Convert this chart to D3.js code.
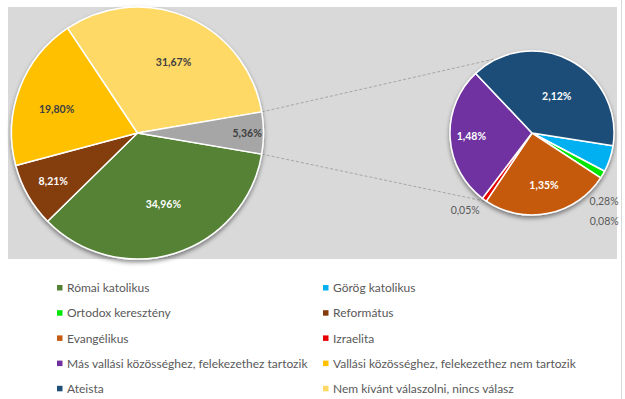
<!DOCTYPE html>
<html>
<head>
<meta charset="utf-8">
<script src="https://cdn.jsdelivr.net/npm/d3@7"></script>
<style>
  body { margin: 0; background: #fff; }
  svg { display: block; font-family: Lato, "Open Sans", sans-serif; }
</style>
</head>
<body>
<svg id="chart" width="625" height="399"></svg>
<script>
// data (legend order)
const categories = [
  "Római katolikus", "Görög katolikus",
  "Ortodox keresztény", "Református",
  "Evangélikus", "Izraelita",
  "Más vallási közösséghez, felekezethez tartozik", "Vallási közösséghez, felekezethez nem tartozik",
  "Ateista", "Nem kívánt válaszolni, nincs válasz"
];
const values = [34.96, 0.28, 0.08, 8.21, 1.35, 0.05, 1.48, 19.80, 2.12, 31.67];
const colors = ["#548235", "#00b0f0", "#00e600", "#843c0c", "#c55a11", "#e60000",
  "#7030a0", "#ffc000", "#1f4e79", "#ffd966"];
const inSecondary = [false, true, true, false, true, true, true, false, true, false];
const otherColor = "#a6a6a6";

// label placement: [angle in degrees (null = slice middle), radius factor, colour]
const labelLayout = {
  "Római katolikus": [160, 0.6, "#fff"],
  "Református": [null, 0.77, "#fff"],
  "Vallási közösséghez, felekezethez nem tartozik": [286.6, 0.67, "#404040"],
  "Nem kívánt válaszolni, nincs válasz": [27, 0.63, "#404040"],
  "__other": [null, 0.87, "#404040"],
  "Ateista": [34, 0.54, "#fff"],
  "Más vallási közösséghez, felekezethez tartozik": [267, 0.74, "#fff"],
  "Evangélikus": [167, 0.65, "#fff"],
  "Izraelita": [220.7, 1.25, "#595959"],
  "Görög katolikus": [133.4, 1.21, "#595959"],
  "Ortodox keresztény": [140.7, 1.39, "#595959"]
};
const outsideLabels = ["Izraelita", "Görög katolikus", "Ortodox keresztény"];

const svg = d3.select("#chart");
const rad = d => d * Math.PI / 180;
const fmt = v => d3.format(".2f")(v).replace(".", ",") + "%";

// shadow
const defs = svg.append("defs");
defs.append("filter").attr("id", "shadow")
  .attr("x", "-20%").attr("y", "-20%").attr("width", "140%").attr("height", "140%")
  .append("feDropShadow")
  .attr("dx", 0).attr("dy", 2.5).attr("stdDeviation", 2)
  .attr("flood-color", "#000").attr("flood-opacity", 0.45);

// plot area + chart border
svg.append("rect").attr("x", 8).attr("y", 7).attr("width", 609).attr("height", 252)
  .attr("fill", "#d9d9d9");
svg.append("line").attr("x1", 621.5).attr("x2", 621.5).attr("y1", 0).attr("y2", 399)
  .attr("stroke", "#d9d9d9");

const mainC = [137.5, 133], mainR = 126;
const secC = [532, 133], secR = 82;

const rows = categories.map((c, i) => ({ name: c, value: values[i], color: colors[i], sec: inSecondary[i] }));
const primary = rows.filter(d => !d.sec);
const secondary = rows.filter(d => d.sec);
const otherSum = d3.sum(secondary, d => d.value);
const total = d3.sum(values);
primary.push({ name: "__other", value: otherSum, color: otherColor });

// main pie: other slice centred on the right
const otherSpan = otherSum / total * 360;
const mainStart = 90 + otherSpan / 2;
const mainPie = d3.pie().sort(null).value(d => d.value)
  .startAngle(rad(mainStart)).endAngle(rad(mainStart + 360));
const secStart = 99;
const secPie = d3.pie().sort(null).value(d => d.value)
  .startAngle(rad(secStart)).endAngle(rad(secStart + 360));

const mainArcs = mainPie(primary);
const secArcs = secPie(secondary);

const pointAt = (c, r, a) => [c[0] + r * Math.sin(a), c[1] - r * Math.cos(a)];

// connector lines
const otherArc = mainArcs.find(d => d.data.name === "__other");
const conn = [
  [pointAt(mainC, mainR, otherArc.startAngle), pointAt(secC, secR, rad(-24))],
  [pointAt(mainC, mainR, otherArc.endAngle), pointAt(secC, secR, rad(213))]
];
svg.append("g").selectAll("line").data(conn).join("line")
  .attr("x1", d => d[0][0]).attr("y1", d => d[0][1])
  .attr("x2", d => d[1][0]).attr("y2", d => d[1][1])
  .attr("stroke", "#a6a6a6").attr("stroke-width", 1).attr("stroke-dasharray", "3,2");

function drawPie(arcs, c, r) {
  const arc = d3.arc().innerRadius(0).outerRadius(r);
  const g = svg.append("g").attr("transform", `translate(${c})`);
  g.append("g").attr("filter", "url(#shadow)")
    .selectAll("path").data(arcs).join("path")
    .attr("d", arc)
    .attr("fill", d => d.data.color)
    .attr("stroke", "#fff").attr("stroke-width", 1.5).attr("stroke-linejoin", "round");

  g.append("g").selectAll("text").data(arcs).join("text")
    .each(function (d) {
      const [ang, rf, col] = labelLayout[d.data.name];
      const a = ang === null ? (d.startAngle + d.endAngle) / 2 : rad(ang);
      const [x, y] = pointAt([0, 0], r * rf, a);
      const outside = outsideLabels.includes(d.data.name);
      d3.select(this)
        .attr("x", x).attr("y", y).attr("dy", "0.35em")
        .attr("text-anchor", "middle")
        .attr("font-size", outside ? 10.5 : 10.5)
        .attr("font-weight", outside ? "normal" : "bold")
        .attr("fill", col)
        .text(fmt(d.data.value));
    });
}
drawPie(mainArcs, mainC, mainR);
drawPie(secArcs, secC, secR);

// legend, two columns, row-major
const legend = svg.append("g");
const colX = [57, 323], rowY0 = 288, rowH = 25.2;
const item = legend.selectAll("g").data(rows).join("g")
  .attr("transform", (d, i) => `translate(${colX[i % 2]},${rowY0 + Math.floor(i / 2) * rowH})`);
item.append("rect").attr("x", 0).attr("y", -3).attr("width", 5.5).attr("height", 5.5)
  .attr("fill", d => d.color);
item.append("text").attr("x", 10).attr("y", 0).attr("dy", "0.35em")
  .attr("font-size", 12).attr("fill", "#595959")
  .text(d => d.name);
</script>
</body>
</html>
